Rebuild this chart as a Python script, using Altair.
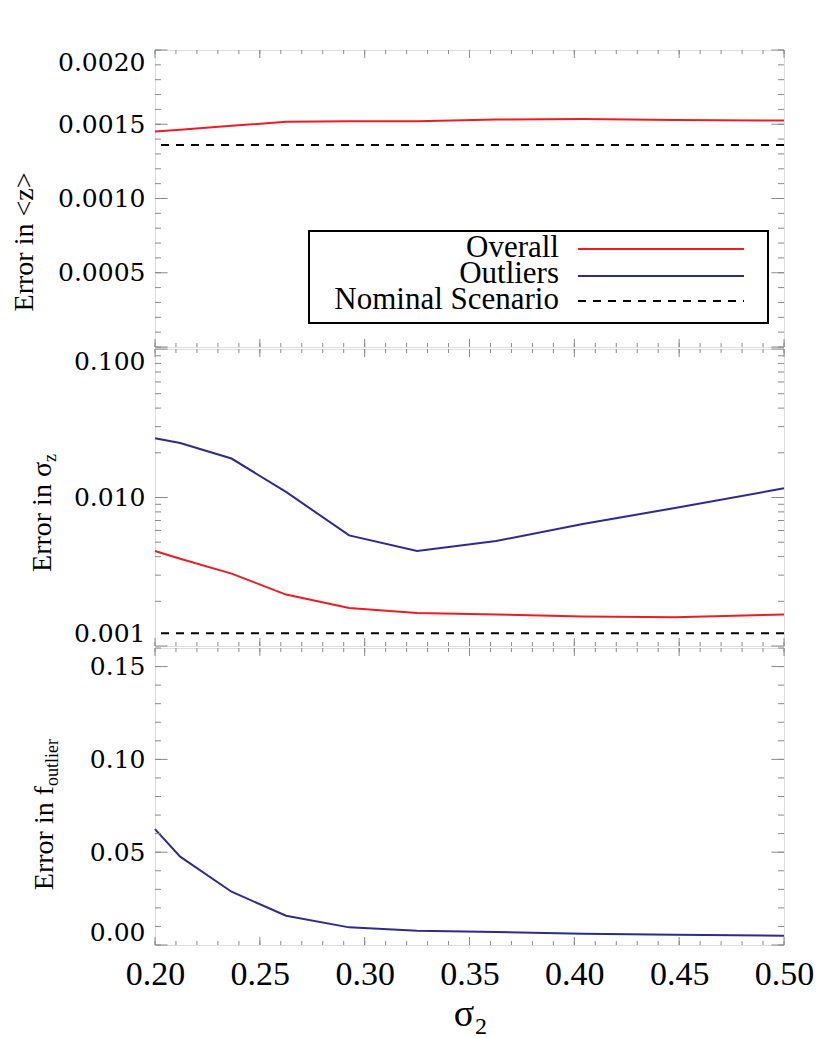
import altair as alt
import pandas as pd

# ---------------- data ----------------
sigma2 = [0.200, 0.212, 0.2365, 0.2625, 0.2926, 0.325, 0.3627, 0.404, 0.448, 0.500]

meanz_overall = [0.001451, 0.001463, 0.00149, 0.001516, 0.00152, 0.001521,
                 0.001532, 0.001536, 0.001528, 0.001525]
meanz_nominal = 0.001361

sigz_overall = [0.00436, 0.00387, 0.00307, 0.00222, 0.0018, 0.00167,
                0.00163, 0.00158, 0.00156, 0.00163]
sigz_outliers = [0.0251, 0.0233, 0.0183, 0.0109, 0.00556, 0.00436,
                 0.00509, 0.00664, 0.0085, 0.01153]
sigz_nominal = 0.00122

fout_outliers = [0.0624, 0.0476, 0.0287, 0.0158, 0.0095, 0.0077,
                 0.0070, 0.0061, 0.0055, 0.0050]

x_major = [0.20, 0.25, 0.30, 0.35, 0.40, 0.45, 0.50]
x_minor = [round(0.20 + 0.01 * i, 2) for i in range(31)]

top_labels = [0.0005, 0.0010, 0.0015, 0.0020]
top_major = [0.0, 0.0005, 0.0010, 0.0015, 0.0020]
top_minor = [round(0.0001 * i, 4) for i in range(21)]

mid_labels = [0.001, 0.010, 0.100]
mid_minor = [m * d for d in (0.001, 0.01) for m in range(2, 10)]

bot_labels = [0.00, 0.05, 0.10, 0.15]
bot_minor = [round(0.01 * i, 2) for i in range(17)]

legend_names = ["Overall", "Outliers", "Nominal Scenario"]

# ---------------- styling ----------------
W, H = 629, 297
RED = "#ED1C24"
BLUE = "#2B2D8E"
GRAY = "#8a8a8a"
LAB_FONT = "DejaVu Serif"
TXT_FONT = "Liberation Serif"

xscale = alt.Scale(domain=[0.2, 0.5], nice=False, zero=False)


def yaxis(values, fmt):
    return alt.Axis(values=values, format=fmt, ticks=False, domain=False, grid=False,
                    labelFont=LAB_FONT, labelFontSize=25, labelColor="black",
                    labelPadding=10, labelFlush=True, title=None)


XAXIS_BOTTOM = alt.Axis(values=x_major, format=".2f", ticks=False, domain=False, grid=False,
                        labelFont=TXT_FONT, labelFontSize=34, labelColor="black",
                        labelPadding=12, labelFlush=False, title=None)


def ticks(yscale, yax, xax, ymajor, yminor):
    layers = []
    for vals, ln in ((ymajor, 12.6), (yminor, 6)):
        d = pd.DataFrame({"v": vals})
        layers.append(alt.Chart(d).mark_rule(color=GRAY, strokeWidth=1).encode(
            y=alt.Y("v:Q", scale=yscale, axis=yax), x=alt.value(0), x2=alt.value(ln)))
        layers.append(alt.Chart(d).mark_rule(color=GRAY, strokeWidth=1).encode(
            y=alt.Y("v:Q", scale=yscale, axis=yax), x=alt.value(W), x2=alt.value(W - ln)))
    for vals, ln in ((x_major, 8), (x_minor, 4)):
        d = pd.DataFrame({"v": vals})
        layers.append(alt.Chart(d).mark_rule(color=GRAY, strokeWidth=1).encode(
            x=alt.X("v:Q", scale=xscale, axis=xax), y=alt.value(0), y2=alt.value(ln)))
        layers.append(alt.Chart(d).mark_rule(color=GRAY, strokeWidth=1).encode(
            x=alt.X("v:Q", scale=xscale, axis=xax), y=alt.value(H), y2=alt.value(H - ln)))
    return layers


def rotated(text, x, y, align="center", size=28):
    return alt.Chart(pd.DataFrame({"t": [text]})).mark_text(
        angle=270, align=align, baseline="middle", font=TXT_FONT, fontSize=size,
        color="black").encode(text="t:N", x=alt.value(x), y=alt.value(y))


# ---------------- top panel ----------------
ys_top = alt.Scale(domain=[0, 0.002], nice=False, zero=False)
ax_top = yaxis(top_labels, ".4f")
top_line = alt.Chart(pd.DataFrame({"x": sigma2, "y": meanz_overall})).mark_line(
    color=RED, strokeWidth=2).encode(
    x=alt.X("x:Q", scale=xscale, axis=None),
    y=alt.Y("y:Q", scale=ys_top, axis=ax_top))
top_nom = alt.Chart(pd.DataFrame({"y": [meanz_nominal]})).mark_rule(
    color="black", strokeWidth=2, strokeDash=[8, 7]).encode(
    y=alt.Y("y:Q", scale=ys_top, axis=ax_top))

leg_box = alt.Chart(pd.DataFrame({"a": [0]})).mark_rect(
    fill="white", stroke="black", strokeWidth=2).encode(
    x=alt.value(154), x2=alt.value(613), y=alt.value(181), y2=alt.value(273))
leg_layers = [leg_box]
leg_styles = [(RED, None), (BLUE, None), ("black", [8, 7])]
leg_line_y = [199, 226, 251]
leg_text_y = [207, 233, 259]
for name, (col, dash), ly, ty in zip(legend_names, leg_styles, leg_line_y, leg_text_y):
    leg_layers.append(alt.Chart(pd.DataFrame({"t": [name]})).mark_text(
        align="right", baseline="alphabetic", font=TXT_FONT, fontSize=31, color="black").encode(
        text="t:N", x=alt.value(404), y=alt.value(ty)))
    kw = dict(color=col, strokeWidth=2)
    if dash:
        kw["strokeDash"] = dash
    leg_layers.append(alt.Chart(pd.DataFrame({"t": [name]})).mark_rule(**kw).encode(
        x=alt.value(423), x2=alt.value(589), y=alt.value(ly)))

top = alt.layer(
    top_line, top_nom, *ticks(ys_top, ax_top, None, top_major, top_minor), *leg_layers,
    rotated("Error in <z>", -130, 192),
).properties(width=W, height=H)

# ---------------- middle panel ----------------
ys_mid = alt.Scale(type="log", domain=[0.001, 0.1], nice=False)
ax_mid = yaxis(mid_labels, ".3f")
mid_df = pd.concat([
    pd.DataFrame({"x": sigma2, "y": sigz_overall, "s": "Overall"}),
    pd.DataFrame({"x": sigma2, "y": sigz_outliers, "s": "Outliers"}),
])
mid_lines = alt.Chart(mid_df).mark_line(strokeWidth=2).encode(
    x=alt.X("x:Q", scale=xscale, axis=None),
    y=alt.Y("y:Q", scale=ys_mid, axis=ax_mid),
    color=alt.Color("s:N", scale=alt.Scale(domain=["Overall", "Outliers"], range=[RED, BLUE]),
                    legend=None),
    detail="s:N")
mid_nom = alt.Chart(pd.DataFrame({"y": [sigz_nominal]})).mark_rule(
    color="black", strokeWidth=2, strokeDash=[8, 7]).encode(
    y=alt.Y("y:Q", scale=ys_mid, axis=ax_mid))
mid = alt.layer(
    mid_lines, mid_nom, *ticks(ys_mid, ax_mid, None, mid_labels, mid_minor),
    rotated("Error in \u03c3", -112, 113, align="right"),
    rotated("z", -104, 113, align="left", size=18),
).properties(width=W, height=H)

# ---------------- bottom panel ----------------
ys_bot = alt.Scale(domain=[0, 0.16], nice=False, zero=False)
ax_bot = yaxis(bot_labels, ".2f")
bot_line = alt.Chart(pd.DataFrame({"x": sigma2, "y": fout_outliers})).mark_line(
    color=BLUE, strokeWidth=2).encode(
    x=alt.X("x:Q", scale=xscale, axis=XAXIS_BOTTOM),
    y=alt.Y("y:Q", scale=ys_bot, axis=ax_bot))
sig_t = alt.Chart(pd.DataFrame({"t": ["\u03c3"]})).mark_text(
    align="center", baseline="alphabetic", font=TXT_FONT, fontSize=38, color="black").encode(
    text="t:N", x=alt.value(309), y=alt.value(378))
sub_t = alt.Chart(pd.DataFrame({"t": ["2"]})).mark_text(
    align="center", baseline="alphabetic", font=TXT_FONT, fontSize=24, color="black").encode(
    text="t:N", x=alt.value(326), y=alt.value(386))
bot = alt.layer(
    bot_line, *ticks(ys_bot, ax_bot, XAXIS_BOTTOM, bot_labels, bot_minor),
    rotated("Error in f", -110, 138, align="right"),
    rotated("outlier", -102, 138, align="left", size=18),
    sig_t, sub_t,
).properties(width=W, height=H)

chart = alt.vconcat(top, mid, bot, spacing=0).properties(
    padding={"left": 2, "top": 41, "right": 0, "bottom": 0}
).configure_view(stroke=GRAY, strokeWidth=1.5).configure(background="white")

chart.save("out.html", embed_options={"renderer": "svg", "actions": False})
